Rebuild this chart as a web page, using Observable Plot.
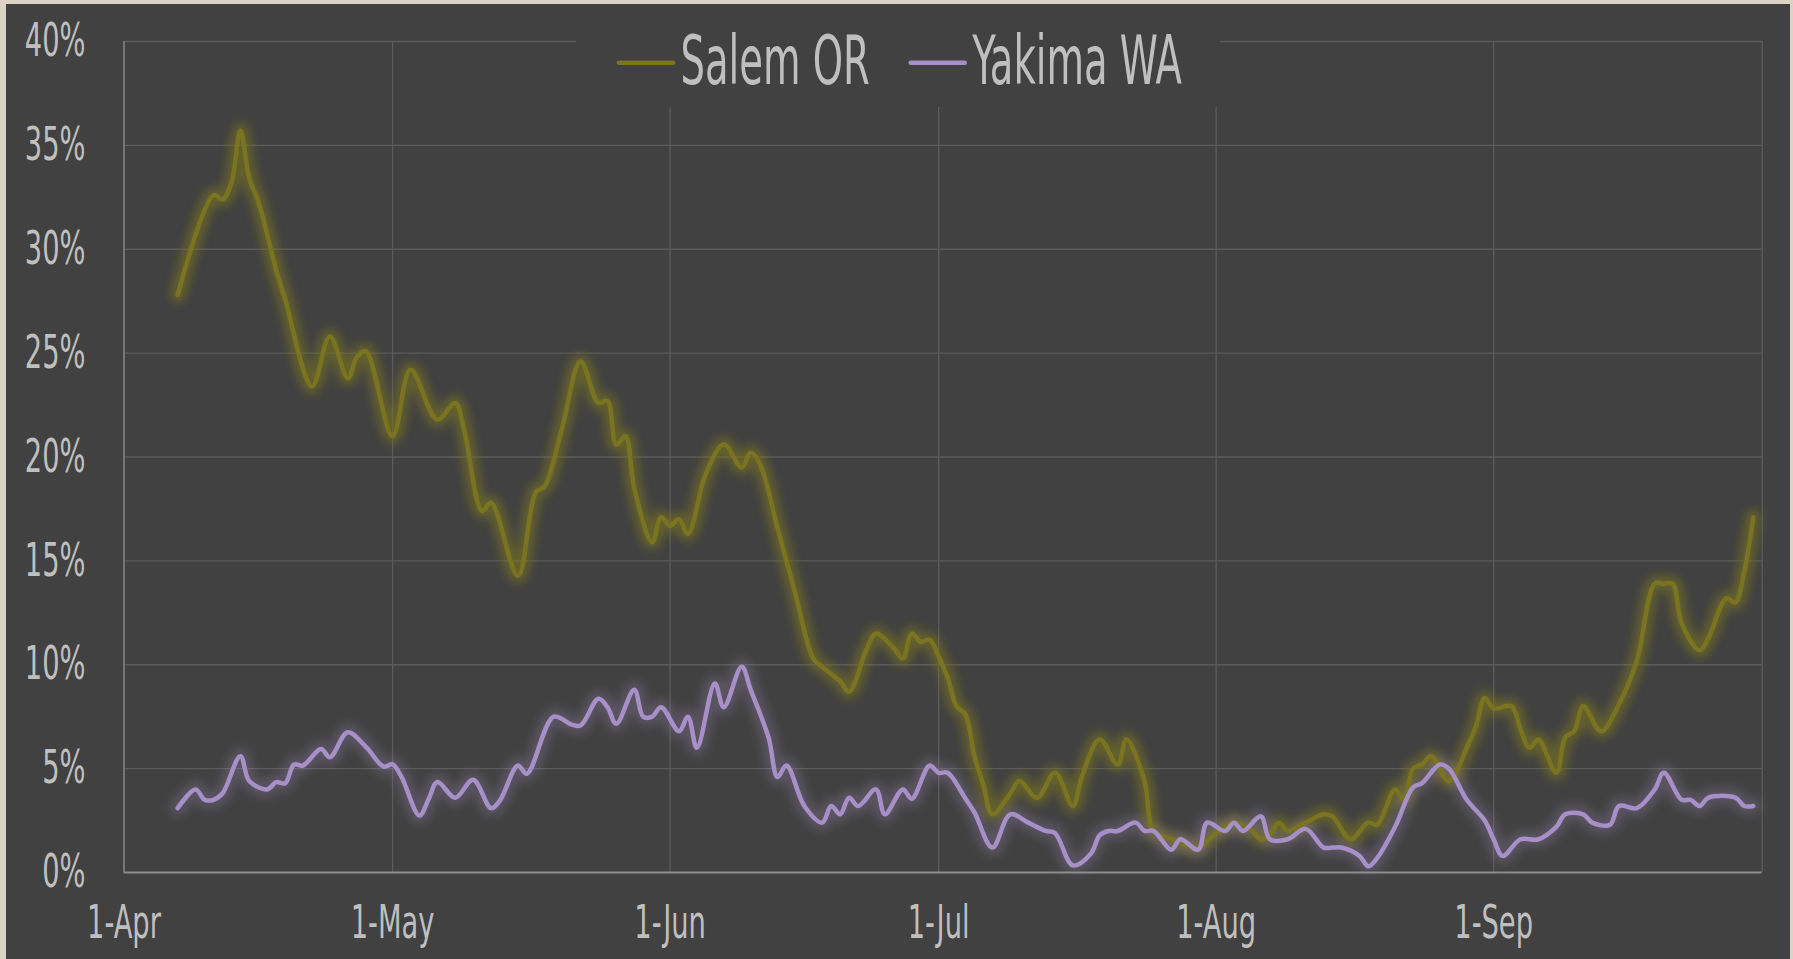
<!DOCTYPE html>
<html><head><meta charset="utf-8">
<script src="https://cdn.jsdelivr.net/npm/d3@7"></script>
<script src="https://cdn.jsdelivr.net/npm/@observablehq/plot@0.6"></script>
<style>
html,body{margin:0;padding:0;background:#dcd2c5;width:1793px;height:959px;overflow:hidden;}
#frame{position:absolute;left:6px;top:4px;width:1784px;height:955px;background:#414141;overflow:hidden;}
#chart{position:absolute;left:0;top:0;}
#legend{position:absolute;left:0;top:0;pointer-events:none;}
</style></head><body>
<div id="frame"><div id="chart"></div><svg id="legend" width="1784" height="120"></svg></div>
<script>
// ---- data (percent) ----
const seriesNames = ["Salem OR", "Yakima WA"];
const seriesColors = ["#7a7420", "#a78fc7"];

const salemDates = ["2020-04-07","2020-04-11","2020-04-12","2020-04-13","2020-04-14","2020-04-15","2020-04-16","2020-04-18","2020-04-19","2020-04-22","2020-04-24","2020-04-26","2020-04-27","2020-04-28","2020-05-01","2020-05-03","2020-05-06","2020-05-08","2020-05-09","2020-05-11","2020-05-12","2020-05-15","2020-05-17","2020-05-18","2020-05-20","2020-05-22","2020-05-24","2020-05-25","2020-05-26","2020-05-27","2020-05-28","2020-05-30","2020-05-31","2020-06-01","2020-06-02","2020-06-03","2020-06-05","2020-06-07","2020-06-09","2020-06-10","2020-06-11","2020-06-13","2020-06-15","2020-06-17","2020-06-18","2020-06-20","2020-06-21","2020-06-23","2020-06-24","2020-06-26","2020-06-27","2020-06-28","2020-06-29","2020-06-30","2020-07-01","2020-07-02","2020-07-03","2020-07-04","2020-07-05","2020-07-06","2020-07-07","2020-07-09","2020-07-10","2020-07-12","2020-07-14","2020-07-16","2020-07-17","2020-07-19","2020-07-21","2020-07-22","2020-07-24","2020-07-25","2020-07-27","2020-07-28","2020-07-30","2020-08-01","2020-08-03","2020-08-05","2020-08-06","2020-08-07","2020-08-08","2020-08-09","2020-08-11","2020-08-13","2020-08-14","2020-08-16","2020-08-18","2020-08-19","2020-08-21","2020-08-22","2020-08-23","2020-08-24","2020-08-25","2020-08-27","2020-08-29","2020-08-30","2020-08-31","2020-09-01","2020-09-03","2020-09-04","2020-09-05","2020-09-06","2020-09-08","2020-09-09","2020-09-10","2020-09-11","2020-09-13","2020-09-15","2020-09-17","2020-09-19","2020-09-20","2020-09-21","2020-09-22","2020-09-24","2020-09-25","2020-09-27","2020-09-28","2020-09-29","2020-09-30"];
const salemPct = [27.8,32.6,32.4,33.2,35.7,33.4,32.3,29.0,27.6,23.4,25.8,23.8,24.8,25.1,21.0,24.2,21.8,22.6,21.3,17.4,17.8,14.3,18.3,18.6,21.5,24.6,22.6,22.7,20.6,21.0,18.5,15.9,17.1,16.7,17.0,16.3,19.2,20.6,19.5,20.2,19.7,16.6,13.4,10.3,9.9,9.2,8.7,10.8,11.5,10.8,10.3,11.5,11.1,11.2,10.4,9.4,8.0,7.6,5.6,4.2,2.8,3.8,4.4,3.6,4.8,3.2,4.6,6.4,5.2,6.4,4.4,2.0,1.6,1.4,1.2,1.9,2.4,2.0,1.6,1.8,2.4,2.0,2.4,2.8,2.7,1.6,2.4,2.3,4.0,3.5,5.0,5.2,5.6,4.4,6.0,7.0,8.4,7.9,8.0,6.9,6.0,6.4,4.8,6.5,6.8,8.0,6.8,8.1,10.2,13.9,13.9,13.9,12.0,10.7,11.3,13.2,13.0,14.5,17.1];

const yakimaDates = ["2020-04-07","2020-04-09","2020-04-10","2020-04-11","2020-04-12","2020-04-14","2020-04-15","2020-04-17","2020-04-18","2020-04-19","2020-04-20","2020-04-21","2020-04-23","2020-04-24","2020-04-26","2020-04-28","2020-04-30","2020-05-01","2020-05-02","2020-05-04","2020-05-05","2020-05-06","2020-05-08","2020-05-10","2020-05-12","2020-05-13","2020-05-15","2020-05-16","2020-05-19","2020-05-21","2020-05-22","2020-05-24","2020-05-25","2020-05-26","2020-05-28","2020-05-29","2020-05-30","2020-05-31","2020-06-02","2020-06-03","2020-06-04","2020-06-06","2020-06-07","2020-06-09","2020-06-10","2020-06-12","2020-06-13","2020-06-14","2020-06-16","2020-06-18","2020-06-19","2020-06-20","2020-06-21","2020-06-22","2020-06-24","2020-06-25","2020-06-27","2020-06-28","2020-06-30","2020-07-01","2020-07-02","2020-07-04","2020-07-05","2020-07-07","2020-07-09","2020-07-11","2020-07-13","2020-07-14","2020-07-16","2020-07-18","2020-07-19","2020-07-20","2020-07-21","2020-07-23","2020-07-24","2020-07-25","2020-07-27","2020-07-28","2020-07-30","2020-07-31","2020-08-02","2020-08-03","2020-08-04","2020-08-06","2020-08-07","2020-08-09","2020-08-11","2020-08-13","2020-08-14","2020-08-15","2020-08-17","2020-08-18","2020-08-19","2020-08-21","2020-08-23","2020-08-24","2020-08-26","2020-08-27","2020-08-29","2020-08-31","2020-09-01","2020-09-02","2020-09-04","2020-09-06","2020-09-08","2020-09-09","2020-09-11","2020-09-12","2020-09-14","2020-09-15","2020-09-17","2020-09-19","2020-09-20","2020-09-22","2020-09-23","2020-09-24","2020-09-25","2020-09-28","2020-09-29","2020-09-30"];
const yakimaPct = [3.1,4.0,3.5,3.5,3.8,5.6,4.4,4.0,4.35,4.3,5.2,5.15,5.95,5.55,6.75,6.06,5.1,5.2,4.6,2.74,3.5,4.35,3.6,4.46,3.1,3.47,5.15,4.75,7.5,7.12,7.08,8.36,7.96,7.16,8.8,7.5,7.5,7.96,6.8,7.5,6.0,9.1,7.96,9.9,8.8,6.5,4.6,5.15,3.2,2.4,3.2,2.8,3.6,3.2,4.0,2.8,4.0,3.55,5.15,4.8,4.8,3.55,2.9,1.2,2.8,2.4,2.0,1.9,0.34,0.9,1.8,2.0,2.0,2.4,2.0,2.0,1.1,1.6,1.1,2.4,2.0,2.4,2.0,2.7,1.6,1.6,2.1,1.2,1.2,1.2,0.8,0.3,0.7,2.2,4.1,4.3,5.2,5.0,3.5,2.5,1.6,0.8,1.6,1.6,2.2,2.8,2.8,2.4,2.3,3.2,3.1,4.0,4.8,3.5,3.5,3.2,3.6,3.6,3.2,3.2];

const yTicks = [0,5,10,15,20,25,30,35,40];
const xTickDates = ["2020-04-01","2020-05-01","2020-06-01","2020-07-01","2020-08-01","2020-09-01"];
const xGridDates = ["2020-05-01","2020-06-01","2020-07-01","2020-08-01","2020-09-01","2020-10-01"];
const xDomain = ["2020-04-01","2020-10-01"];

// ---- build ----
const toRows = (dates, vals, name) => dates.map((d, i) => ({date: new Date(d), pct: vals[i], series: name}));
const salemRows = toRows(salemDates, salemPct, seriesNames[0]);
const yakimaRows = toRows(yakimaDates, yakimaPct, seriesNames[1]);

const FONT = '"Liberation Sans Narrow","Arial Narrow","DejaVu Sans Condensed",sans-serif';
const TXT = "#bfbfbf";
const GRID = "#5b5b5b";
const AXIS_FS = 46, AXIS_SX = 0.66, LEG_FS = 68, LEG_SX = 0.63;

const chart = Plot.plot({
  width: 1784, height: 955,
  marginLeft: 117.5, marginRight: 28.3, marginTop: 37, marginBottom: 87,
  style: {background: "transparent", color: TXT, fontFamily: FONT, fontSize: AXIS_FS + "px", overflow: "visible"},
  x: {type: "utc", domain: xDomain.map(d => new Date(d))},
  y: {domain: [0, 40]},
  marks: [
    Plot.gridY(yTicks.slice(1), {stroke: GRID, strokeOpacity: 1, strokeWidth: 1.3}),
    Plot.gridX(xGridDates.map(d => new Date(d)), {stroke: GRID, strokeOpacity: 1, strokeWidth: 1.3}),
    Plot.ruleX([new Date(xDomain[0])], {stroke: "#828282", strokeWidth: 1.6}),
    Plot.ruleY([0], {stroke: "#8c8c8c", strokeWidth: 1.8}),
    Plot.axisY({ticks: yTicks, tickSize: 0, tickPadding: 38.5, tickFormat: d => d + "%", fontSize: AXIS_FS, fill: TXT, label: null}),
    Plot.axisX({ticks: xTickDates.map(d => new Date(d)), tickSize: 0, tickPadding: 33, tickFormat: d3.utcFormat("%-d-%b"), fontSize: AXIS_FS, fill: TXT, label: null}),
    Plot.line(salemRows, {x: "date", y: "pct", stroke: seriesColors[0], strokeWidth: 15, strokeOpacity: 0.6, curve: "catmull-rom"}),
    Plot.line(yakimaRows, {x: "date", y: "pct", stroke: seriesColors[1], strokeWidth: 16, strokeOpacity: 0.24, curve: "catmull-rom"}),
    Plot.line(salemRows, {x: "date", y: "pct", stroke: seriesColors[0], strokeWidth: 4.5, curve: "catmull-rom"}),
    Plot.line(yakimaRows, {x: "date", y: "pct", stroke: seriesColors[1], strokeWidth: 4.5, curve: "catmull-rom"})
  ]
});
document.getElementById("chart").appendChild(chart);

// glow filter
const NS = "http://www.w3.org/2000/svg";
const defs = document.createElementNS(NS, "defs");
defs.innerHTML = '<filter id="glow" x="-10%" y="-10%" width="120%" height="120%"><feGaussianBlur stdDeviation="5"/></filter>';
chart.insertBefore(defs, chart.firstChild);
const lineGroups = chart.querySelectorAll('g[aria-label="line"]');
lineGroups[0].setAttribute("filter", "url(#glow)");
lineGroups[1].setAttribute("filter", "url(#glow)");

// condense tick label glyphs
chart.querySelectorAll("text").forEach(t => {
  const tr = t.getAttribute("transform");
  if (tr) t.setAttribute("transform", tr + ` scale(${AXIS_SX},1)`);
  else {
    const x = +t.getAttribute("x") || 0, y = +t.getAttribute("y") || 0;
    t.setAttribute("x", 0); t.setAttribute("y", 0);
    t.setAttribute("transform", `translate(${x},${y}) scale(${AXIS_SX},1)`);
  }
});

// legend
const lg = d3.select("#legend");
lg.append("rect").attr("x", 570).attr("y", 16).attr("width", 644).attr("height", 87).attr("fill", "#414141");
const legendItems = [
  {name: seriesNames[0], color: seriesColors[0], x: 613},
  {name: seriesNames[1], color: seriesColors[1], x: 904.7}
];
legendItems.forEach(it => {
  lg.append("line").attr("x1", it.x).attr("x2", it.x + 54).attr("y1", 58.7).attr("y2", 58.7)
    .attr("stroke", it.color).attr("stroke-width", 4.5).attr("stroke-linecap", "round");
  lg.append("text").attr("transform", `translate(${it.x + 61.5},80) scale(${LEG_SX},1)`)
    .attr("font-family", FONT).attr("font-size", LEG_FS).attr("fill", TXT).text(it.name);
});
</script>
</body></html>
